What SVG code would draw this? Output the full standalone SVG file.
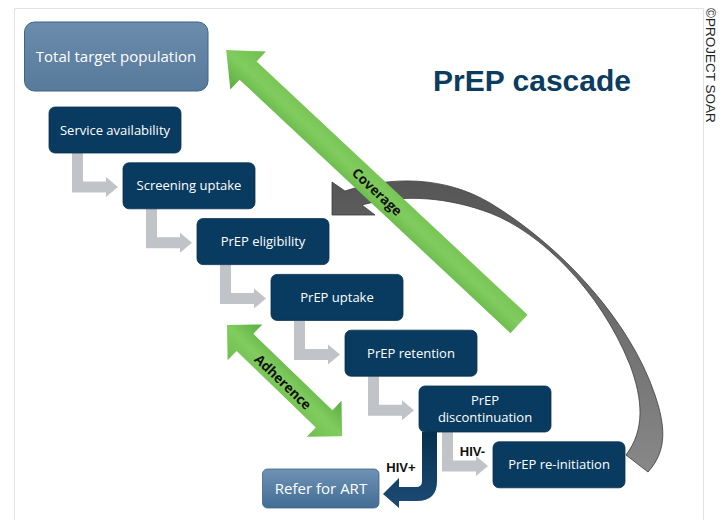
<svg xmlns="http://www.w3.org/2000/svg" width="726" height="520" viewBox="0 0 726 520">
  <defs>
    <style>
      .step rect { fill: #083b5f; stroke: #0a304f; stroke-width: 0.8; }
      .lbl { font-family: "Open Sans", "Liberation Sans", sans-serif; font-size: 13px; fill: #ffffff; text-anchor: middle; }
      .big { font-size: 15px; }
      .tag { font-family: "Liberation Sans", Arial, sans-serif; font-size: 13px; font-weight: bold; fill: #111111; text-anchor: middle; }
      .diag { font-family: "Open Sans", "Liberation Sans", sans-serif; font-size: 13.5px; font-weight: bold; fill: #111111; text-anchor: middle; }
      .elbow { fill: #c0c3c7; }
      .frame { stroke: #e2e2e2; stroke-width: 1; fill: none; }
    </style>
    <linearGradient id="gTop" x1="0" y1="0" x2="0" y2="1">
      <stop offset="0" stop-color="#6b8cac"/>
      <stop offset="1" stop-color="#587a9b"/>
    </linearGradient>
    <linearGradient id="gArt" x1="0" y1="0" x2="0" y2="1">
      <stop offset="0" stop-color="#6f92b4"/>
      <stop offset="1" stop-color="#426d95"/>
    </linearGradient>
    <linearGradient id="gGreen" x1="0" y1="0" x2="0" y2="1">
      <stop offset="0" stop-color="#58ad3e"/>
      <stop offset="0.5" stop-color="#82cc5f"/>
      <stop offset="1" stop-color="#6cbf4c"/>
    </linearGradient>
    <linearGradient id="gGray" x1="0" y1="0" x2="0" y2="1">
      <stop offset="0" stop-color="#565656"/>
      <stop offset="1" stop-color="#888888"/>
    </linearGradient>
    <linearGradient id="gNavy" x1="0" y1="0" x2="0" y2="1">
      <stop offset="0" stop-color="#07304f"/>
      <stop offset="1" stop-color="#1d4b75"/>
    </linearGradient>
    <!-- elbow connector, placed relative to the top-left corner of its source step -->
    <path id="elbowShape" class="elbow" d="M23,46 H34 V74.5 H57 V70 L69,80 L57,90 V85.5 H23 Z"/>
  </defs>

  <rect width="726" height="520" fill="#ffffff"/>

  <!-- page frame -->
  <path class="frame" d="M14.5,520 V8.5 H703.5 V520"/>

  <!-- title and credit -->
  <text x="532" y="91" font-family="'Liberation Sans', Arial, sans-serif" font-size="30" font-weight="bold" fill="#0c3c61" text-anchor="middle">PrEP cascade</text>
  <text transform="translate(706,8) rotate(90)" font-family="'Liberation Sans', Arial, sans-serif" font-size="13.5" fill="#222222">©PROJECT SOAR</text>

  <g id="connectors">
    <!-- step-to-step elbows -->
    <use href="#elbowShape" transform="translate(49,107)"/>
    <use href="#elbowShape" transform="translate(123,162.8)"/>
    <use href="#elbowShape" transform="translate(197,218.6)"/>
    <use href="#elbowShape" transform="translate(271,274.4)"/>
    <use href="#elbowShape" transform="translate(345,330.2)"/>
    <!-- HIV- branch -->
    <use href="#elbowShape" transform="translate(419,386)"/>
    <text class="tag" x="472.5" y="456">HIV-</text>

    <!-- HIV+ branch -->
    <path d="M422,432 H437 V481 Q437,501 417,501 H399 V508 L383,494 L399,478 V487 H416 Q422,487 422,481 Z" fill="url(#gNavy)"/>
    <text class="tag" x="401" y="471.5">HIV+</text>

    <!-- loop back from re-initiation -->
    <path d="M345,191 C390,176 445,176 490,203 C560,245 630,320 655,395 C665,425 668,450 648,472 L626,455 C645,430 643,400 630,365 C600,290 540,232 490,213 C450,198 405,193 362,205 L375,215 L332,215 L332,182 Z" fill="url(#gGray)" stroke="#3e3e3e" stroke-width="0.8"/>

    <!-- coverage arrow -->
    <g transform="translate(519,324) rotate(223.1)">
      <polygon points="0,-12.5 371,-12.5 371,-26 401,0 371,26 371,12.5 0,12.5" fill="url(#gGreen)"/>
    </g>
    <text class="diag" transform="translate(377,192) rotate(43.1)" dy="0.35em">Coverage</text>

    <!-- adherence arrow -->
    <g transform="translate(227,325) rotate(44)">
      <polygon points="0,0 25,-25 25,-12 135,-12 135,-25 160,0 135,25 135,12 25,12 25,25" fill="url(#gGreen)"/>
    </g>
    <text class="diag" transform="translate(283,382) rotate(44)" dy="0.35em">Adherence</text>
  </g>

  <g id="total-target">
    <rect x="24.5" y="22" width="183.5" height="69" rx="10" fill="url(#gTop)" stroke="#3f6586" stroke-width="1"/>
    <text class="lbl big" x="116" y="62">Total target population</text>
  </g>

  <g id="service-availability" class="step">
    <rect x="49" y="107" width="132" height="46" rx="6"/>
    <text class="lbl" x="115" y="134.5">Service availability</text>
  </g>
  <g id="screening-uptake" class="step">
    <rect x="123" y="162.8" width="132" height="46" rx="6"/>
    <text class="lbl" x="189" y="190.3">Screening uptake</text>
  </g>
  <g id="prep-eligibility" class="step">
    <rect x="197" y="218.6" width="132" height="46" rx="6"/>
    <text class="lbl" x="263" y="246.1">PrEP eligibility</text>
  </g>
  <g id="prep-uptake" class="step">
    <rect x="271" y="274.4" width="132" height="46" rx="6"/>
    <text class="lbl" x="337" y="301.9">PrEP uptake</text>
  </g>
  <g id="prep-retention" class="step">
    <rect x="345" y="330.2" width="132" height="46" rx="6"/>
    <text class="lbl" x="411" y="357.7">PrEP retention</text>
  </g>
  <g id="prep-discontinuation" class="step">
    <rect x="419" y="386" width="132" height="46" rx="6"/>
    <text class="lbl" x="485" y="404.5">PrEP</text>
    <text class="lbl" x="485" y="421.5">discontinuation</text>
  </g>
  <g id="prep-reinitiation" class="step">
    <rect x="493" y="441.8" width="132" height="46" rx="6"/>
    <text class="lbl" x="559" y="469.3">PrEP re-initiation</text>
  </g>

  <g id="refer-art">
    <rect x="262.5" y="469" width="116.5" height="39" rx="5" fill="url(#gArt)" stroke="#3d6589" stroke-width="0.8"/>
    <text class="lbl big" x="321" y="494">Refer for ART</text>
  </g>
</svg>
